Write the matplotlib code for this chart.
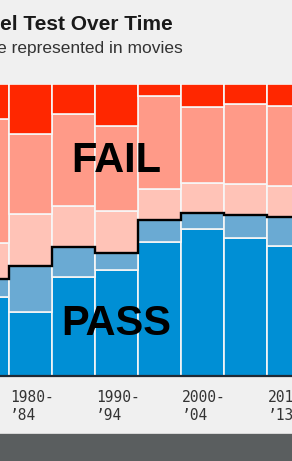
import numpy as np
import matplotlib
matplotlib.use("Agg")
import matplotlib.pyplot as plt
from matplotlib.patches import Rectangle

# share of movies per five-year bin (percent), bottom to top
bins = ['1975-79', '1980-84', '1985-89', '1990-94', '1995-99', '2000-04', '2005-09', '2010-13']
ok_pass = [27.2, 22.0, 34.0, 36.3, 46.0, 50.2, 47.2, 44.6]
dubious = [6.0, 15.6, 10.3, 5.9, 7.4, 5.5, 8.0, 9.9]
men_only = [12.5, 17.8, 13.9, 14.3, 10.5, 10.5, 10.5, 10.6]
no_talk = [42.4, 27.4, 31.5, 29.1, 32.0, 25.9, 27.4, 27.5]
fewer_women = [11.9, 17.2, 10.3, 14.4, 4.1, 7.9, 6.9, 7.4]

tick_bins = [1, 3, 5, 7]
tick_top = ['1980-', '1990-', '2000-', '2010-']
tick_bottom = ['\u201984', '\u201994', '\u201904', '\u201913']

W, H = 292, 461
bg = '#f0f0f0'
fig = plt.figure(figsize=(W / 100, H / 100), dpi=100, facecolor=bg)


def fx(px):
    return px / W


def fy(py):
    return 1 - py / H


# axes wider than the figure: the picture is a crop of a larger chart
ax = fig.add_axes([0, fy(376), 1, fy(84) - fy(376)])
ax.patch.set_alpha(0)

layers = [ok_pass, dubious, men_only, no_talk, fewer_women]
colors = ['#008fd5', '#6aaad3', '#ffc3b7', '#ff9a88', '#ff2700']
x = np.arange(len(bins))
bottom = np.zeros(len(bins))
for vals, c in zip(layers, colors):
    ax.bar(x, vals, width=1, bottom=bottom, align='edge', color=c,
           edgecolor='#f7f7f7', linewidth=1.2)
    bottom += np.array(vals)

pass_total = np.array(ok_pass) + np.array(dubious)
ax.stairs(pass_total, edges=np.arange(len(bins) + 1), baseline=None,
          color='black', linewidth=1.7, zorder=5)
ax.axhline(0, color='#1f2a36', linewidth=1.6, clip_on=False, zorder=6)

x0 = 1 - 9 / 43
ax.set_xlim(x0, x0 + W / 43)
ax.set_ylim(0, 100)
ax.axis('off')

fig.text(fx(116.5), fy(171.5), 'FAIL', ha='center', va='baseline',
         fontsize=30, fontweight='bold', family='Liberation Sans', color='black')
fig.text(fx(116.5), fy(335), 'PASS', ha='center', va='baseline',
         fontsize=30, fontweight='bold', family='Liberation Sans', color='black')

# tick labels, two lines each, left-aligned at the bar edge
trans = ax.get_xaxis_transform()
for i, top, bot in zip(tick_bins, tick_top, tick_bottom):
    xd = i + 1.2 / 43
    ax.text(xd, -(402 - 376) / 292, top, transform=trans, ha='left', va='baseline',
            fontsize=10.5, family='DejaVu Sans Mono', color='#333333', clip_on=False)
    ax.text(xd, -(420 - 376) / 292, bot, transform=trans, ha='left', va='baseline',
            fontsize=10.5, family='DejaVu Sans Mono', color='#333333', clip_on=False)

# title and subtitle (cut off on the left like the reference)
fig.text(fx(173), fy(30.5), 'The Bechdel Test Over Time', ha='right', va='baseline',
         fontsize=15, fontweight='bold', family='Liberation Sans', color='#1a1a1a')
fig.text(fx(183), fy(53), 'How women are represented in movies', ha='right', va='baseline',
         fontsize=12.5, family='Liberation Sans', color='#333333')

# footer band
fig.patches.append(Rectangle((0, 0), 1, fy(433.5), transform=fig.transFigure,
                             facecolor='#5a5e5f', edgecolor='none'))
fig.patches.append(Rectangle((0, fy(433.5)), 1, 1 / H, transform=fig.transFigure,
                             facecolor='#d6d6d6', edgecolor='none'))

fig.savefig('out.png', dpi=100, facecolor=bg)
